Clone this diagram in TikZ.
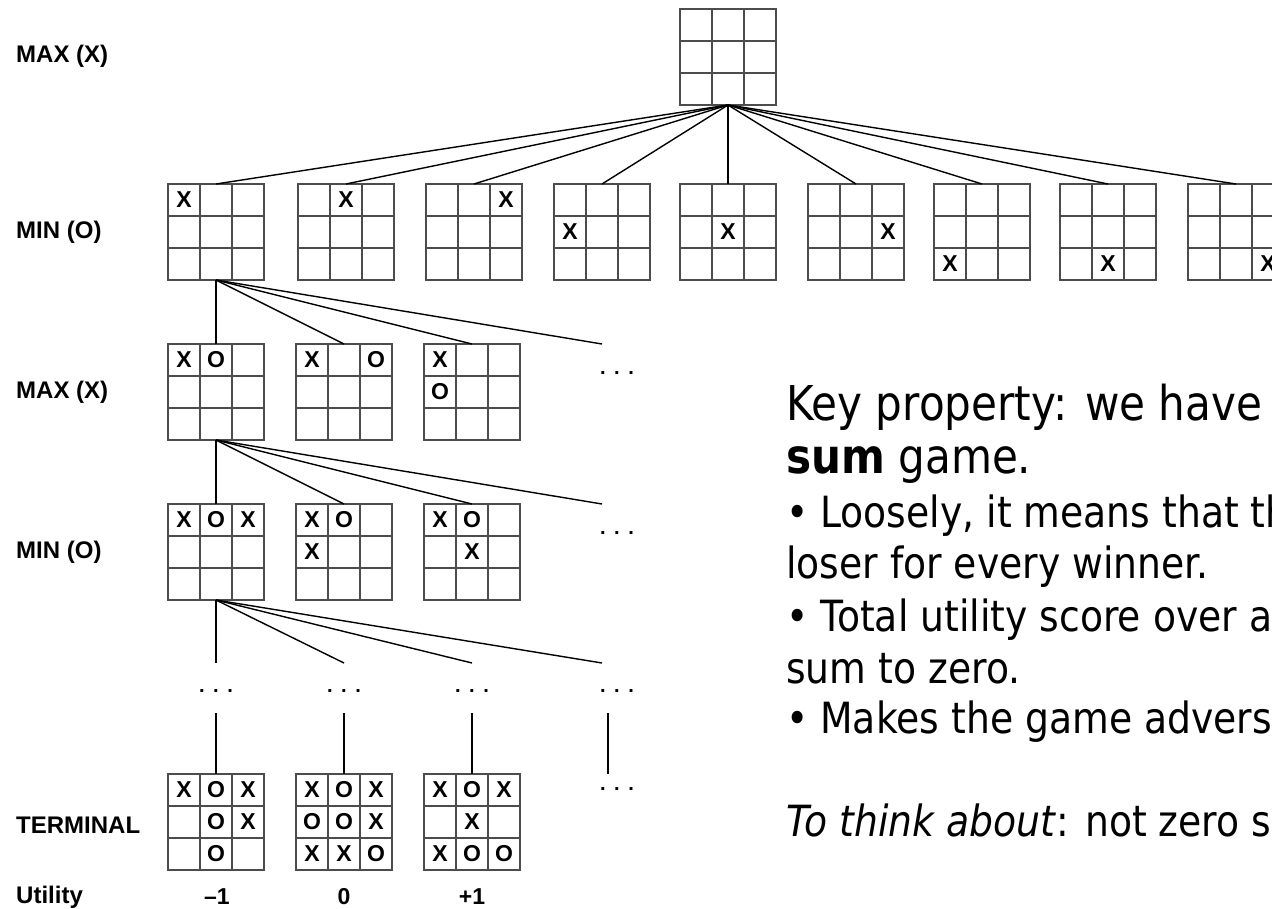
\documentclass[tikz,border=0pt]{standalone}
\usepackage{fontspec}
\newfontfamily\helv{Liberation Sans}
\newfontfamily\tah[FakeStretch=0.877]{DejaVu Sans}
\usetikzlibrary{calc}
\definecolor{gridcol}{gray}{0.3}
\newcommand{\tttboard}[3]{% name, left, top
  \node[boardbox] (#1) at (#2+48,#3+48) {};
  \draw[gridline] (#2+32,#3) -- (#2+32,#3+96) (#2+64,#3) -- (#2+64,#3+96)
                  (#2,#3+32) -- (#2+96,#3+32) (#2,#3+64) -- (#2+96,#3+64);
}
\newcommand{\tttmarks}[4]{% name, left, top, list col/row/symbol
  \foreach \cc/\rr/\sy in {#4} {
    \node[symb] (#1-\cc\rr) at (#2+32*\cc-16,#3+32*\rr-16) {\sy};
  }
}
\begin{document}
\begin{tikzpicture}[x=1pt,y=-1pt,
  boardbox/.style={draw=gridcol, line width=1.4pt, minimum width=96pt, minimum height=96pt, inner sep=0pt, outer sep=0pt},
  gridline/.style={draw=gridcol, line width=1.4pt},
  symb/.style={font=\helv\bfseries\fontsize{23}{23}\selectfont, inner sep=0pt},
  conn/.style={draw=black, line width=1.4pt},
  lvl/.style={font=\helv\bfseries\fontsize{24}{24}\selectfont, anchor=west, inner sep=0pt},
  util/.style={font=\helv\bfseries\fontsize{23}{23}\selectfont, inner sep=0pt},
  ell/.style={font=\helv\bfseries\fontsize{20}{20}\selectfont, inner sep=0pt},
  keytext/.style={font=\tah\fontsize{48}{52}\selectfont, anchor=base west, inner sep=0pt},
  bultext/.style={font=\tah\fontsize{43}{46}\selectfont, anchor=base west, inner sep=0pt}]
\useasboundingbox (0,0) rectangle (1272,909);
\fill[white] (0,0) rectangle (1272,909);
\begin{scope}
\clip (0,0) rectangle (1272,909);

% level labels
\node[lvl] (lab1) at (16,56) {MAX (X)};
\node[lvl] (lab2) at (16,232) {MIN (O)};
\node[lvl] (lab3) at (16,392) {MAX (X)};
\node[lvl] (lab4) at (16,552) {MIN (O)};
\node[lvl] (lab5) at (16,825) {TERMINAL};
\node[lvl] (lab6) at (16,897) {Utility};

% root
\tttboard{root}{680}{9}

% MIN row
\tttboard{m1}{168}{184}  \tttmarks{m1}{168}{184}{1/1/X}
\tttboard{m2}{298}{184}  \tttmarks{m2}{298}{184}{2/1/X}
\tttboard{m3}{426}{184}  \tttmarks{m3}{426}{184}{3/1/X}
\tttboard{m4}{554}{184}  \tttmarks{m4}{554}{184}{1/2/X}
\tttboard{m5}{680}{184}  \tttmarks{m5}{680}{184}{2/2/X}
\tttboard{m6}{808}{184}  \tttmarks{m6}{808}{184}{3/2/X}
\tttboard{m7}{934}{184}  \tttmarks{m7}{934}{184}{1/3/X}
\tttboard{m8}{1060}{184} \tttmarks{m8}{1060}{184}{2/3/X}
\tttboard{m9}{1188}{184} \tttmarks{m9}{1188}{184}{3/3/X}

\foreach \i in {1,...,9} {\draw[conn] (root.south) -- (m\i.north);}

% MAX row (level 2)
\tttboard{a1}{168}{344} \tttmarks{a1}{168}{344}{1/1/X,2/1/O}
\tttboard{a2}{296}{344} \tttmarks{a2}{296}{344}{1/1/X,3/1/O}
\tttboard{a3}{424}{344} \tttmarks{a3}{424}{344}{1/1/X,1/2/O}
\coordinate (c2) at (602,344);
\foreach \i in {1,2,3} {\draw[conn] (m1.south) -- (a\i.north);}
\draw[conn] (m1.south) -- (c2);
\node[ell] (dots2) at (617,373) {.\hspace{8.5pt}.\hspace{8.5pt}.};

% MIN row (level 3)
\tttboard{n1}{168}{504} \tttmarks{n1}{168}{504}{1/1/X,2/1/O,3/1/X}
\tttboard{n2}{296}{504} \tttmarks{n2}{296}{504}{1/1/X,2/1/O,1/2/X}
\tttboard{n3}{424}{504} \tttmarks{n3}{424}{504}{1/1/X,2/1/O,2/2/X}
\coordinate (c3) at (602,504);
\foreach \i in {1,2,3} {\draw[conn] (a1.south) -- (n\i.north);}
\draw[conn] (a1.south) -- (c3);
\node[ell] (dots3) at (617,533) {.\hspace{8.5pt}.\hspace{8.5pt}.};

% level 4 (ellipses)
\coordinate (d1) at (216,663);
\coordinate (d2) at (344,663);
\coordinate (d3) at (472,663);
\coordinate (d4) at (602,663);
\foreach \i in {1,...,4} {\draw[conn] (n1.south) -- (d\i);}
\node[ell] (e41) at (216,691) {.\hspace{8.5pt}.\hspace{8.5pt}.};
\node[ell] (e42) at (344,691) {.\hspace{8.5pt}.\hspace{8.5pt}.};
\node[ell] (e43) at (472,691) {.\hspace{8.5pt}.\hspace{8.5pt}.};
\node[ell] (e44) at (617,691) {.\hspace{8.5pt}.\hspace{8.5pt}.};

% terminal row
\tttboard{t1}{168}{774} \tttmarks{t1}{168}{774}{1/1/X,2/1/O,3/1/X,2/2/O,3/2/X,2/3/O}
\tttboard{t2}{296}{774} \tttmarks{t2}{296}{774}{1/1/X,2/1/O,3/1/X,1/2/O,2/2/O,3/2/X,1/3/X,2/3/X,3/3/O}
\tttboard{t3}{424}{774} \tttmarks{t3}{424}{774}{1/1/X,2/1/O,3/1/X,2/2/X,1/3/X,2/3/O,3/3/O}
\coordinate (f1) at (216,713);
\coordinate (f2) at (344,713);
\coordinate (f3) at (472,713);
\draw[conn] (f1) -- (t1.north);
\draw[conn] (f2) -- (t2.north);
\draw[conn] (f3) -- (t3.north);
\coordinate (g1) at (608,713);
\coordinate (g2) at (608,774);
\draw[conn] (g1) -- (g2);
\node[ell] (e5) at (617,789) {.\hspace{8.5pt}.\hspace{8.5pt}.};

% utilities
\node[util] (u1) at (217,897) {–1};
\node[util] (u2) at (344,897) {0};
\node[util] (u3) at (472,897) {+1};

% right-hand text
\node[keytext] (k1) at (786,420) {Key property: we have};
\node[keytext] (k2) at (786,473) {\textbf{sum} game.};
\node[bultext] (k3) at (786,527) {• Loosely, it means that th};
\node[bultext] (k4) at (786,578) {loser for every winner.};
\node[bultext] (k5) at (786,631) {• Total utility score over al};
\node[bultext] (k6) at (786,683) {sum to zero.};
\node[bultext] (k7) at (786,733) {• Makes the game adversa};
\node[bultext] (k8) at (786,836) {\textit{To think about}: not zero s};
\end{scope}
\end{tikzpicture}
\end{document}
